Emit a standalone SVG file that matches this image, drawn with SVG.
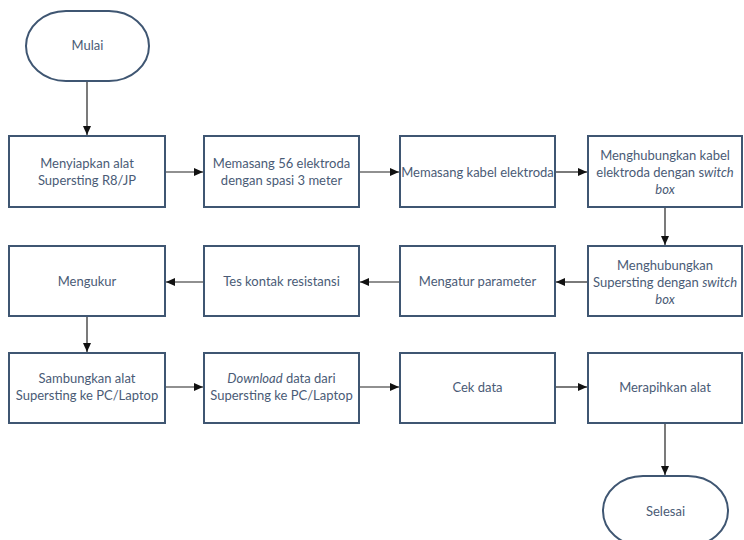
<svg xmlns="http://www.w3.org/2000/svg" width="744" height="540" viewBox="0 0 744 540">
<defs>
<marker id="ah" markerWidth="10" markerHeight="10" refX="9" refY="5" orient="auto" markerUnits="userSpaceOnUse">
<path d="M0,1 L9,5 L0,9 Z" fill="#111"/>
</marker>
<style>
.n{fill:#fff;stroke:#3f5672;stroke-width:2}
.t{font-family:Lato,"Open Sans","Noto Sans",sans-serif;font-size:13px;fill:#4a5b76;text-anchor:middle}
.c{stroke:#222;stroke-width:1.2;fill:none;marker-end:url(#ah)}
</style>
</defs>
<rect width="744" height="540" fill="#fff"/>
<g id="connectors">
<line class="c" x1="87" y1="81" x2="87" y2="135"/>
<line class="c" x1="165" y1="172" x2="203" y2="172"/>
<line class="c" x1="359" y1="172" x2="399" y2="172"/>
<line class="c" x1="555" y1="172" x2="587" y2="172"/>
<line class="c" x1="665" y1="207" x2="665" y2="245"/>
<line class="c" x1="588" y1="282" x2="556" y2="282"/>
<line class="c" x1="400" y1="282" x2="360" y2="282"/>
<line class="c" x1="204" y1="282" x2="166" y2="282"/>
<line class="c" x1="87" y1="316" x2="87" y2="352"/>
<line class="c" x1="165" y1="387" x2="203" y2="387"/>
<line class="c" x1="359" y1="387" x2="399" y2="387"/>
<line class="c" x1="555" y1="387" x2="587" y2="387"/>
<line class="c" x1="665" y1="423" x2="665" y2="475"/>
</g>
<g id="mulai"><rect class="n" x="26" y="11" width="123" height="70" rx="40" ry="35"/><text class="t" x="87.5" y="50">Mulai</text></g>
<g id="n1"><rect class="n" x="9" y="136" width="156" height="71"/><text class="t" x="87" y="168">Menyiapkan alat</text><text class="t" x="87" y="185">Supersting R8/JP</text></g>
<g id="n2"><rect class="n" x="204" y="136" width="155" height="71"/><text class="t" x="281.5" y="168">Memasang 56 elektroda</text><text class="t" x="281.5" y="185">dengan spasi 3 meter</text></g>
<g id="n3"><rect class="n" x="400" y="136" width="155" height="71"/><text class="t" x="477.5" y="177">Memasang kabel elektroda</text></g>
<g id="n4"><rect class="n" x="588" y="136" width="154" height="71"/><text class="t" x="665" y="160">Menghubungkan kabel</text><text class="t" x="665" y="177">elektroda dengan s<tspan font-style="italic">witch</tspan></text><text class="t" x="665" y="194" font-style="italic">box</text></g>
<g id="n5"><rect class="n" x="588" y="246" width="154" height="70"/><text class="t" x="665" y="270">Menghubungkan</text><text class="t" x="665" y="287">Supersting dengan <tspan font-style="italic">switch</tspan></text><text class="t" x="665" y="304" font-style="italic">box</text></g>
<g id="n6"><rect class="n" x="400" y="246" width="155" height="70"/><text class="t" x="477.5" y="286">Mengatur parameter</text></g>
<g id="n7"><rect class="n" x="204" y="246" width="155" height="70"/><text class="t" x="281.5" y="286">Tes kontak resistansi</text></g>
<g id="n8"><rect class="n" x="9" y="246" width="156" height="70"/><text class="t" x="87" y="286">Mengukur</text></g>
<g id="n9"><rect class="n" x="9" y="353" width="156" height="70"/><text class="t" x="87" y="383">Sambungkan alat</text><text class="t" x="87" y="400">Supersting ke PC/Laptop</text></g>
<g id="n10"><rect class="n" x="204" y="353" width="155" height="70"/><text class="t" x="281.5" y="383"><tspan font-style="italic">Download</tspan> data dari</text><text class="t" x="281.5" y="400">Supersting ke PC/Laptop</text></g>
<g id="n11"><rect class="n" x="400" y="353" width="155" height="70"/><text class="t" x="477.5" y="392">Cek data</text></g>
<g id="n12"><rect class="n" x="588" y="353" width="154" height="70"/><text class="t" x="665" y="392">Merapihkan alat</text></g>
<g id="selesai"><rect class="n" x="603" y="476" width="125" height="70" rx="40" ry="35"/><text class="t" x="665.5" y="516">Selesai</text></g>
</svg>
